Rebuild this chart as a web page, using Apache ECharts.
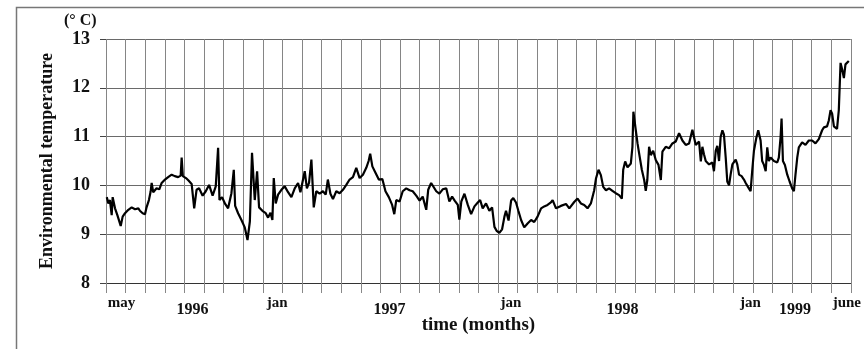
<!DOCTYPE html>
<html>
<head>
<meta charset="utf-8">
<script src="https://cdn.jsdelivr.net/npm/echarts@6/dist/echarts.min.js"></script>
<style>
html,body{margin:0;padding:0;background:#fff;}
#chart{width:864px;height:349px;}
</style>
</head>
<body>
<div id="chart"></div>
<script>
// time in months since 1 May 1996 (0 = may 1996, 38 = end of june 1999)
const monthPos = [0.04,0.12,0.20,0.29,0.34,0.46,0.58,0.75,0.85,0.97,1.14,1.31,1.48,1.65,1.73,1.87,1.99,2.07,2.19,2.28,2.33,2.41,2.58,2.72,2.84,3.01,3.17,3.35,3.51,3.68,3.81,3.86,3.92,4.08,4.21,4.37,4.50,4.62,4.75,4.93,5.09,5.26,5.44,5.60,5.72,5.79,5.92,6.08,6.23,6.40,6.52,6.59,6.74,6.91,7.08,7.22,7.34,7.45,7.59,7.71,7.81,7.98,8.15,8.27,8.39,8.49,8.56,8.66,8.78,8.95,9.12,9.29,9.46,9.63,9.80,9.92,10.14,10.25,10.36,10.48,10.60,10.73,10.90,11.07,11.21,11.32,11.45,11.58,11.75,11.92,12.09,12.26,12.43,12.60,12.77,12.94,13.11,13.28,13.40,13.48,13.59,13.75,13.92,14.10,14.26,14.43,14.60,14.71,14.81,14.98,15.14,15.32,15.49,15.65,15.83,16.00,16.16,16.34,16.44,16.59,16.67,16.85,17.01,17.18,17.36,17.52,17.66,17.79,17.95,18.03,18.13,18.29,18.46,18.63,18.80,18.97,19.09,19.22,19.39,19.56,19.70,19.82,19.93,20.07,20.21,20.33,20.41,20.54,20.67,20.78,20.92,21.04,21.18,21.34,21.51,21.69,21.85,22.02,22.20,22.36,22.53,22.70,22.79,22.96,23.21,23.47,23.64,23.89,24.06,24.23,24.40,24.57,24.74,24.91,25.00,25.13,25.25,25.37,25.51,25.67,25.84,26.01,26.18,26.32,26.39,26.49,26.61,26.78,26.86,26.91,27.03,27.12,27.20,27.34,27.46,27.54,27.62,27.71,27.80,27.92,28.05,28.19,28.31,28.39,28.56,28.73,28.90,29.07,29.24,29.41,29.58,29.75,29.92,30.09,30.26,30.35,30.43,30.51,30.60,30.77,30.94,31.02,31.11,31.19,31.28,31.36,31.45,31.53,31.62,31.70,31.79,31.87,31.96,32.13,32.21,32.30,32.43,32.55,32.64,32.77,32.89,32.97,33.06,33.18,33.28,33.40,33.48,33.57,33.66,33.74,33.82,33.91,34.08,34.25,34.33,34.42,34.47,34.54,34.64,34.76,34.88,35.01,35.10,35.18,35.27,35.35,35.52,35.69,35.86,36.03,36.20,36.37,36.54,36.63,36.79,36.88,36.97,37.05,37.14,37.22,37.30,37.39,37.48,37.56,37.65,37.73,37.81,37.90];
const tempC = [9.76,9.63,9.70,9.39,9.76,9.53,9.39,9.17,9.36,9.43,9.50,9.55,9.51,9.53,9.48,9.43,9.41,9.55,9.70,9.88,10.05,9.86,9.94,9.92,10.05,10.12,10.17,10.22,10.19,10.17,10.20,10.57,10.19,10.15,10.10,10.03,9.53,9.91,9.94,9.79,9.88,10.01,9.79,9.98,10.77,9.70,9.76,9.62,9.53,9.84,10.32,9.58,9.43,9.29,9.14,8.88,9.26,10.67,9.70,10.29,9.55,9.48,9.43,9.34,9.44,9.29,10.15,9.63,9.81,9.91,9.98,9.86,9.76,9.94,10.05,9.86,10.29,9.94,10.05,10.53,9.55,9.88,9.83,9.88,9.81,10.12,9.83,9.72,9.88,9.84,9.91,10.01,10.12,10.17,10.36,10.15,10.22,10.36,10.50,10.65,10.39,10.26,10.12,10.13,9.88,9.76,9.60,9.41,9.70,9.67,9.88,9.94,9.90,9.88,9.79,9.69,9.77,9.50,9.91,10.05,10.08,9.88,9.83,9.92,9.94,9.67,9.77,9.69,9.60,9.30,9.67,9.83,9.60,9.41,9.57,9.65,9.70,9.53,9.63,9.48,9.55,9.15,9.07,9.03,9.10,9.36,9.48,9.28,9.69,9.74,9.65,9.48,9.29,9.14,9.22,9.29,9.25,9.36,9.53,9.57,9.60,9.65,9.70,9.53,9.58,9.62,9.53,9.66,9.73,9.63,9.60,9.53,9.63,9.90,10.14,10.32,10.21,9.97,9.90,9.94,9.89,9.84,9.80,9.73,10.32,10.49,10.37,10.45,10.79,11.51,11.14,10.86,10.66,10.32,10.11,9.89,10.11,10.79,10.62,10.71,10.52,10.42,10.11,10.69,10.79,10.76,10.86,10.90,11.07,10.92,10.83,10.86,11.14,10.83,10.90,10.49,10.79,10.64,10.50,10.43,10.47,10.29,10.71,10.81,10.50,10.99,11.13,11.04,10.57,10.08,10.00,10.22,10.43,10.53,10.43,10.22,10.19,10.12,10.05,9.96,9.88,10.29,10.71,10.97,11.13,10.92,10.50,10.42,10.29,10.78,10.50,10.57,10.50,10.47,10.57,10.99,11.37,10.50,10.42,10.22,10.08,9.94,9.88,10.22,10.57,10.78,10.88,10.83,10.92,10.92,10.86,10.95,11.13,11.19,11.21,11.33,11.54,11.47,11.21,11.18,11.16,11.54,12.51,12.38,12.20,12.48,12.51,12.55];

const monthLabels = ['may','jan','jan','jan','june'];
const monthLabelAt = [0.79,8.74,20.66,32.88,37.8];
const yearLabels = ['1996','1997','1998','1999'];
const yearLabelAt = [4.41,14.47,26.36,35.15];
const yTicks = [8,9,10,11,12,13];

const seriesData = monthPos.map((m,i)=>[m,tempC[i]]);
const serif = '"Liberation Serif","Times New Roman",serif';

const chart = echarts.init(document.getElementById('chart'), null, {renderer:'canvas'});
chart.setOption({
  animation:false,
  backgroundColor:'#fff',
  grid:{left:106,right:12,top:39,bottom:66,containLabel:false},
  xAxis:[{
    type:'value',min:0,max:38,interval:1,
    name:'time (months)',nameLocation:'middle',nameGap:28,
    nameTextStyle:{fontFamily:serif,fontWeight:'bold',fontSize:19,color:'#111'},
    axisLine:{show:true,lineStyle:{color:'#333',width:1}},
    axisTick:{show:true,length:10,lineStyle:{color:'#888'}},
    splitLine:{show:true,lineStyle:{color:'#858585',width:1}},
    axisLabel:{show:true,customValues:monthLabelAt,margin:13,
      formatter:(v)=>{const i=monthLabelAt.indexOf(v);return i>=0?monthLabels[i]:'';},
      fontFamily:serif,fontWeight:'bold',fontSize:15,color:'#111'}
  },{
    type:'value',min:0,max:38,position:'bottom',
    axisLine:{show:false},axisTick:{show:false},splitLine:{show:false},
    axisLabel:{show:true,customValues:yearLabelAt,margin:19,
      formatter:(v)=>{const i=yearLabelAt.indexOf(v);return i>=0?yearLabels[i]:'';},
      fontFamily:serif,fontWeight:'bold',fontSize:16,color:'#111'}
  }],
  yAxis:{
    type:'value',min:8,max:13,interval:1,
    name:'Environmental temperature',nameLocation:'middle',nameGap:50,nameRotate:90,
    nameTextStyle:{fontFamily:serif,fontWeight:'bold',fontSize:18,color:'#111'},
    axisLine:{show:false},
    axisTick:{show:true,length:6,lineStyle:{color:'#444'}},
    splitLine:{show:true,lineStyle:{color:'#6a6a6a',width:1}},
    axisLabel:{margin:16,fontFamily:serif,fontWeight:'bold',fontSize:18,color:'#111',
      formatter:(v)=>yTicks.indexOf(v)>=0?String(v):''}
  },
  graphic:[
    {type:'rect',shape:{x:16.5,y:7.5,width:900,height:400},style:{fill:'none',stroke:'#777',lineWidth:1.5},silent:true,z:-1},
    {type:'text',left:64,top:13,style:{text:'(° C)',font:'bold 16px '+serif,fill:'#111'}}
  ],
  series:[{
    type:'line',xAxisIndex:0,data:seriesData,showSymbol:false,symbol:'none',
    lineStyle:{color:'#000',width:2.2},z:5
  }]
});
</script>
</body>
</html>
